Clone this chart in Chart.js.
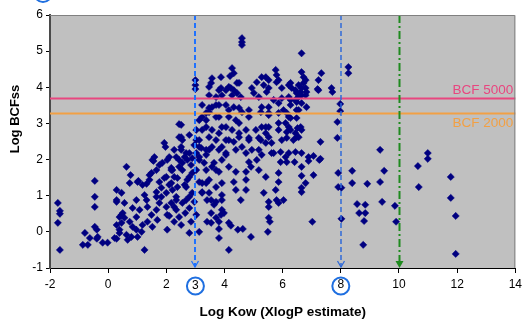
<!DOCTYPE html>
<html>
<head>
<meta charset="utf-8">
<script src="https://cdn.jsdelivr.net/npm/chart.js@4.4.1/dist/chart.umd.min.js"></script>
<style>
  html, body { margin: 0; padding: 0; background: #fff; }
</style>
</head>
<body>
<canvas id="bcf-chart" width="526" height="323"></canvas>
<script>
// Log Kow (XlogP estimate) and Log BCFss
const logKow = [
  -1.73, -1.66, -1.66, -1.73, -1.66, -0.80, -0.46, -0.46, -0.39, -0.63,
  -0.39, -0.36, -0.87, -0.70, -0.19, -0.02, 0.29, 0.29, 0.46, 0.56,
  0.46, 0.39, 0.63, 0.67, 1.25, 0.29, 0.56, -0.46, -0.46, 0.63,
  0.77, 0.74, 0.29, 0.46, 0.29, 1.04, 1.32, 1.49, 1.59, 1.56,
  1.93, 1.97, 2.44, 2.17, 1.93, 0.97, 1.42, 1.52, 1.01, 1.18,
  1.42, 2.00, 2.17, 2.27, 0.50, 0.39, 0.84, 0.97, 1.15, 1.18,
  1.35, 1.52, 1.49, 1.66, 1.76, 2.00, 1.83, 1.66, 2.00, 2.21,
  2.34, 2.17, 2.34, 2.03, 2.44, 2.51, 2.03, 0.22, 0.39, 0.80,
  1.01, 2.79, 3.13, 3.03, 3.40, 3.81, 4.15, 2.85, 2.68, 2.89,
  2.68, 2.79, 3.23, 3.40, 3.23, 3.47, 3.71, 3.54, 3.88, 3.91,
  3.91, 2.55, 2.79, 2.44, 2.79, 3.13, 3.37, 3.64, 3.71, 3.91,
  3.37, 3.03, 1.66, 1.76, 1.66, 1.32, 1.35, 1.08, 0.84, 0.97,
  0.74, 4.60, 4.60, 4.60, 6.65, 4.26, 4.32, 3.88, 3.57, 3.54,
  3.00, 3.00, 3.00, 4.50, 4.15, 4.05, 3.88, 3.47, 3.71, 3.91,
  4.26, 4.43, 4.56, 5.11, 5.28, 5.35, 5.76, 5.79, 5.79, 5.52,
  5.97, 6.21, 4.94, 5.01, 5.18, 5.45, 5.69, 5.97, 6.21, 6.44,
  6.44, 6.62, 5.52, 5.52, 5.86, 6.14, 6.55, 5.25, 4.84, 4.60,
  4.32, 4.05, 3.81, 3.57, 3.47, 3.23, 3.81, 4.15, 4.84, 4.50,
  5.08, 5.42, 5.52, 5.25, 5.86, 6.21, 6.14, 6.48, 6.62, 2.51,
  2.51, 3.03, 3.03, 3.37, 3.57, 3.47, 3.81, 4.05, 4.26, 4.15,
  4.50, 4.74, 4.84, 4.60, 4.39, 3.91, 3.57, 3.37, 3.13, 3.03,
  4.05, 4.74, 5.18, 5.28, 5.62, 6.10, 6.44, 3.13, 3.37, 2.51,
  6.65, 6.72, 7.33, 7.23, 7.23, 7.68, 7.71, 6.27, 6.31, 6.55,
  6.72, 6.79, 6.82, 6.65, 6.55, 6.27, 6.48, 6.65, 6.82, 6.48,
  6.27, 6.27, 6.48, 8.26, 8.26, 7.98, 7.98, 7.88, 7.88, 7.30,
  6.51, 6.65, 6.55, 9.35, 6.65, 6.89, 7.06, 7.30, 6.27, 10.99,
  10.99, 10.65, 11.78, 11.78, 6.89, 7.26, 6.41, 6.65, 7.06, 6.65,
  6.79, 6.65, 6.65, 7.91, 8.39, 8.39, 8.91, 9.49, 9.35, 7.91,
  8.02, 8.56, 8.84, 9.42, 9.86, 10.68, 6.21, 8.63, 8.84, 8.80,
  8.02, 8.77, 9.90, 11.95, 11.95, 3.54, 3.81, 4.46, 4.63, 4.91,
  5.49, 5.52, 5.56, 5.52, 5.86, 6.03, 7.02, 3.81, 3.71, 4.15,
  4.22, 3.91, 3.98, 3.54, 3.64, 2.27, 2.55, 2.96, 2.10, 4.19,
  4.43, 3.47, 3.81, 4.22, 4.32, 5.42, 5.86, 5.52, 6.79, 6.65,
  6.48, 6.79, 7.20, 2.44, 2.55, 2.51, 2.68, 2.72, 2.55, 2.34,
  2.44, 2.21, 2.17, 2.38, 2.72, 2.89, 2.79, 2.34, 3.13, 3.37,
  3.23, 3.47, 3.91, 3.71, 4.32, 4.39, 4.56, 4.74, 4.84, 5.11,
  4.91, 5.18, 5.42, 4.74, 4.74, 5.35, 5.52, 5.76, 5.86, 5.93,
  5.69, 6.14, 5.93, 6.21, 5.86, 5.79, 3.81, 3.57, 4.15, 4.39,
  3.30, 3.13, 3.47, 3.81, 4.05, 3.71, 4.05, 4.32, 4.50, 4.84,
  4.94, 5.18, 5.28, 5.52, 5.42, 5.86, 6.10, 6.14, 5.97, 5.42,
  5.62, 3.23, 3.13, 3.20, 3.37, 3.71, 3.91, 4.39, 4.50, 4.15,
  3.71, 3.47, 3.23, 5.28, 5.52, 5.86, 6.03, 6.44, 6.37, 2.27,
  2.10, 1.86, 2.03, 1.76, 2.63, 2.85, 2.38, 2.63, 2.89, 2.96, 2.79,
  1.25, 1.83, 2.10, 1.69, 2.27, 2.65
];
const logBcfss = [
  0.80, 0.58, 0.50, 0.25, -0.50, -0.03, 0.69, 0.14, 0.06, -0.17,
  -0.19, -0.14, -0.36, -0.36, -0.30, -0.30, -0.19, 0.19, 0.25, 0.39,
  0.47, -0.03, -0.08, -0.22, -0.50, 0.83, 0.80, 1.41, 0.97, 1.80,
  1.57, 1.35, 1.16, 1.08, 0.88, 1.41, 1.33, 1.63, 2.07, 1.96,
  2.46, 2.35, 2.98, 1.71, 1.49, 0.88, 1.44, 1.99, 1.38, 1.30,
  1.57, 1.52, 1.77, 1.52, 0.52, 0.41, 0.14, 0.06, 0.00, 0.19,
  0.28, 0.14, 0.47, 0.61, 0.80, 0.69, 0.97, 1.10, 1.08, 1.16,
  0.97, 0.80, 0.61, 0.47, 0.41, 0.19, 0.06, -0.17, 0.06, -0.14,
  -0.14, -0.03, 0.00, 0.47, 0.28, -0.17, -0.50, 0.28, 1.24, 1.08,
  0.88, 0.66, 1.08, 0.88, 1.35, 1.44, 1.24, 0.52, 0.47, 0.88,
  1.35, 1.71, 1.52, 1.99, 2.18, 1.99, 2.13, 1.91, 1.71, 1.99,
  1.71, 1.71, 1.71, 1.38, 0.97, 0.88, 0.69, 0.61, 0.66, 0.41,
  0.28, 5.36, 5.25, 5.17, 4.94, 4.53, 4.39, 4.28, 4.25, 4.12,
  4.20, 4.06, 3.95, 4.12, 4.01, 3.92, 3.98, 3.78, 3.73, 3.78,
  3.78, 3.84, 3.73, 4.14, 4.28, 4.06, 4.48, 4.34, 4.14, 4.20,
  3.98, 4.06, 3.98, 3.84, 3.73, 3.87, 3.65, 3.70, 3.73, 3.92,
  3.65, 3.87, 3.45, 3.23, 3.29, 3.29, 3.37, 3.31, 3.37, 3.31,
  3.45, 3.51, 3.51, 3.45, 3.31, 3.18, 3.18, 3.18, 3.18, 3.01,
  2.82, 2.90, 2.62, 2.54, 2.82, 2.90, 2.60, 2.62, 2.90, 2.96,
  2.62, 2.82, 2.54, 2.90, 2.82, 2.62, 2.73, 2.90, 2.82, 2.54,
  2.62, 2.82, 2.54, 2.35, 2.27, 2.35, 2.35, 2.27, 2.35, 2.18,
  2.18, 2.18, 2.27, 2.13, 2.18, 2.07, 2.21, 3.09, 3.29, 2.27,
  4.42, 4.28, 4.39, 4.20, 3.92, 3.98, 3.87, 4.12, 3.98, 4.06,
  4.12, 3.98, 3.87, 3.78, 3.73, 3.65, 3.59, 3.56, 3.45, 3.37,
  3.51, 3.15, 3.15, 4.56, 4.39, 3.54, 3.34, 3.04, 2.60, 2.49,
  2.87, 2.82, 2.62, 2.27, 2.18, 2.07, 2.10, 2.02, 2.82, 2.18,
  2.02, 1.82, 1.52, 0.94, 1.96, 1.99, 1.93, 1.80, 1.57, 1.55,
  1.35, 1.22, 1.10, 1.63, 1.69, 1.35, 1.33, 1.69, 1.38, 1.24,
  1.22, 0.77, 0.75, 0.83, 0.72, 1.24, 3.18, 0.52, 0.52, 0.30,
  0.36, -0.36, 0.28, 0.44, -0.61, 0.25, 0.08, 0.06, 0.08, -0.14,
  0.00, 0.39, 0.28, 0.69, 0.80, 0.88, 0.28, 0.28, 0.39, 0.25,
  0.17, 0.61, 0.52, 0.88, 0.75, 0.69, 0.80, 0.83, 0.44, 4.31,
  4.12, 4.01, 3.92, 3.98, 3.92, 4.28, 4.20, 3.98, 4.20, 3.98,
  3.84, 3.78, 3.95, 2.62, 2.54, 2.35, 2.18, 1.99, 1.91, 2.07,
  1.80, 1.71, 1.35, 1.24, 1.44, 1.63, 0.97, 0.88, 1.38, 1.35,
  1.10, 1.08, 1.02, 0.83, 1.38, 1.16, 0.88, 1.66, 1.93, 1.99,
  1.80, 1.71, 1.52, 1.44, 1.16, 1.08, 0.83, 1.16, 1.63, 2.21,
  2.18, 1.93, 1.93, 2.18, 1.38, 0.88, 1.66, 1.80, 1.80, 1.66,
  1.91, 2.07, 2.27, 2.27, 2.13, 2.54, 2.54, 2.49, 2.73, 2.60,
  2.27, 2.60, 2.90, 2.90, 2.73, 3.01, 3.01, 2.76, 2.54, 2.46,
  2.46, 2.82, 2.54, 2.32, 3.09, 3.18, 2.90, 3.09, 3.43, 3.37,
  3.51, 3.43, 3.51, 3.45, 3.29, 3.56, 3.37, 2.73, 2.54, 2.27,
  2.07, 1.91, 1.99, 1.85, 2.07, 1.85, 1.49, 1.30, 2.04, 2.40, 2.68,
  1.02, 1.22, 1.30, 0.33, 0.28, 0.52
];

// reference lines
const bcfLimits = [5000, 2000];
const bcfLabels = ["BCF 5000", "BCF 2000"];
const bcfColors = ["#e8467f", "#f2a044"];
const markerKow = [3, 8];
const cutoffKow = 10;
const yTitle = "Log BCFss";

const points = logKow.map((x, i) => ({ x: x, y: logBcfss[i] }));

const font = "'Liberation Sans', Arial, sans-serif";

// gray plot area, threshold lines, arrows and circled tick labels
const overlay = {
  id: "overlay",
  beforeDraw(chart) {
    const { ctx, chartArea: a } = chart;
    ctx.save();
    ctx.fillStyle = "#c0c0c0";
    ctx.fillRect(a.left, a.top, a.right - a.left, a.bottom - a.top);
    ctx.restore();
  },
  afterDatasetsDraw(chart) {
    const { ctx, chartArea: a, scales } = chart;
    const xs = scales.x, ys = scales.y;
    ctx.save();

    // horizontal BCF lines with labels
    bcfLimits.forEach((v, i) => {
      const y = Math.round(ys.getPixelForValue(Math.log10(v))) + 0.5;
      ctx.strokeStyle = bcfColors[i];
      ctx.lineWidth = 2;
      ctx.setLineDash([]);
      ctx.beginPath();
      ctx.moveTo(a.left, y);
      ctx.lineTo(a.right, y);
      ctx.stroke();
      ctx.fillStyle = bcfColors[i];
      ctx.font = "13.5px " + font;
      ctx.textAlign = "right";
      if (i === 0) {
        ctx.textBaseline = "bottom";
        ctx.fillText(bcfLabels[i], a.right - 2, y - 1);
      } else {
        ctx.textBaseline = "top";
        ctx.fillText(bcfLabels[i], a.right - 2, y + 3);
      }
    });

    // blue dashed markers at log Kow 3 and 8
    markerKow.forEach((v, i) => {
      const x = Math.round(xs.getPixelForValue(v));
      ctx.strokeStyle = i === 0 ? "#1f72ff" : "#2f6ad8";
      ctx.lineWidth = i === 0 ? 2 : 1.5;
      ctx.setLineDash([5, 3]);
      ctx.beginPath();
      ctx.moveTo(x, a.top);
      ctx.lineTo(x, a.bottom - 1);
      ctx.stroke();
      ctx.setLineDash([]);
      ctx.lineWidth = 1.3;
      ctx.beginPath();
      ctx.moveTo(x - 3.5, a.bottom - 7);
      ctx.lineTo(x, a.bottom - 1);
      ctx.lineTo(x + 3.5, a.bottom - 7);
      ctx.stroke();
    });

    // green dash-dot cutoff at 10
    const gx = Math.round(xs.getPixelForValue(cutoffKow)) + 0.5;
    ctx.strokeStyle = "#1f8a1f";
    ctx.lineWidth = 2;
    ctx.setLineDash([8, 3, 2, 3]);
    ctx.beginPath();
    ctx.moveTo(gx, a.top);
    ctx.lineTo(gx, a.bottom - 5);
    ctx.stroke();
    ctx.setLineDash([]);
    ctx.fillStyle = "#1f8a1f";
    ctx.beginPath();
    ctx.moveTo(gx - 4, a.bottom - 7);
    ctx.lineTo(gx + 4, a.bottom - 7);
    ctx.lineTo(gx, a.bottom);
    ctx.closePath();
    ctx.fill();

    // top and right frame
    ctx.strokeStyle = "#808080";
    ctx.lineWidth = 1;
    ctx.beginPath();
    ctx.moveTo(a.left, a.top + 0.5);
    ctx.lineTo(a.right - 0.5, a.top + 0.5);
    ctx.lineTo(a.right - 0.5, a.bottom);
    ctx.stroke();

    // circled labels under the axis
    const cy = a.bottom + 18;
    ctx.strokeStyle = "#1f6fe0";
    ctx.lineWidth = 2;
    markerKow.forEach((v) => {
      const x = xs.getPixelForValue(v);
      ctx.beginPath();
      ctx.arc(x, cy, 8.5, 0, Math.PI * 2);
      ctx.stroke();
    });
    ctx.fillStyle = "#000";
    ctx.font = "12px " + font;
    ctx.textAlign = "center";
    ctx.textBaseline = "middle";
    ctx.fillText(String(markerKow[0]), xs.getPixelForValue(markerKow[0]), cy);

    // partly visible circle at the top left corner
    ctx.beginPath();
    ctx.arc(43, -7, 9, 0, Math.PI * 2);
    ctx.stroke();

    // y axis title, sits above the middle of the axis
    ctx.translate(15, 119);
    ctx.rotate(-Math.PI / 2);
    ctx.font = "bold 13px " + font;
    ctx.fillText(yTitle, 0, 0);
    ctx.restore();
  }
};

new Chart(document.getElementById("bcf-chart").getContext("2d"), {
  type: "scatter",
  data: {
    datasets: [
      {
        label: "Log BCFss",
        data: points,
        pointStyle: "rectRot",
        pointRadius: 3.6,
        pointBorderWidth: 0.5,
        backgroundColor: "#000080",
        borderColor: "#000080",
      },
    ],
  },
  options: {
    responsive: false,
    animation: false,
    events: [],
    layout: { padding: { top: 15, right: 8, left: 0, bottom: 0 } },
    plugins: {
      legend: { display: false },
      tooltip: { enabled: false },
    },
    scales: {
      x: {
        type: "linear",
        min: -2,
        max: 14,
        afterFit: function (scale) {
          scale.height = 55;
        },
        ticks: {
          stepSize: 2,
          color: "#000",
          font: { family: font, size: 12 },
          padding: 4,
        },
        grid: { drawOnChartArea: false, color: "#000", tickLength: 5 },
        border: { color: "#000", width: 1 },
        title: {
          display: true,
          text: "Log Kow (XlogP estimate)",
          color: "#000",
          font: { family: font, size: 13.5, weight: "bold" },
          padding: { top: 0, bottom: 3 },
        },
      },
      y: {
        min: -1,
        max: 6,
        afterFit: function (scale) {
          scale.width = 50;
        },
        ticks: {
          stepSize: 1,
          color: "#000",
          font: { family: font, size: 12 },
          padding: 3,
        },
        grid: { drawOnChartArea: false, color: "#000", tickLength: 4 },
        border: { color: "#4a4a4a", width: 2 },
      },
    },
  },
  plugins: [overlay],
});
</script>
</body>
</html>
